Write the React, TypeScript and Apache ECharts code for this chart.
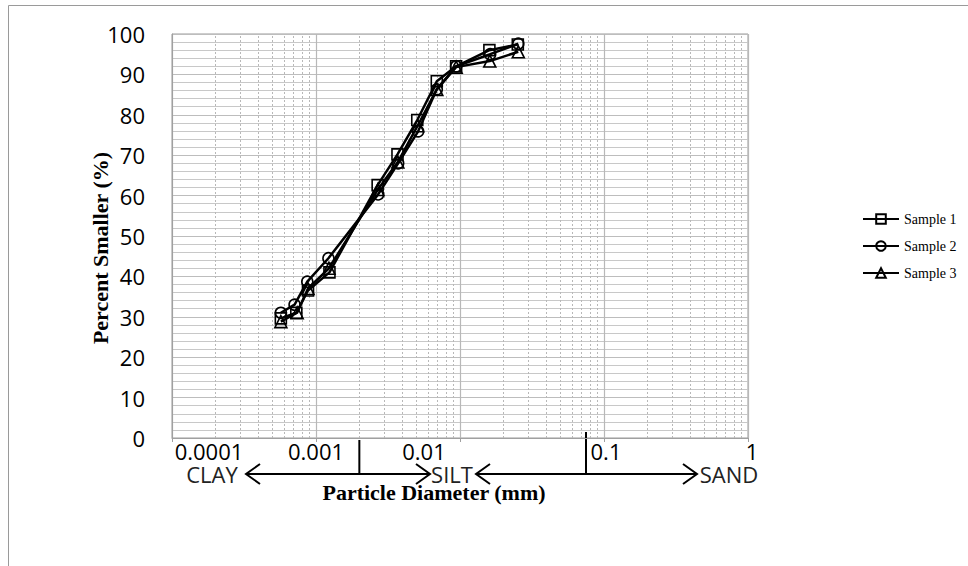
import React, { useEffect, useRef } from "react";
import * as echarts from "echarts";

// ---- data ----
const seriesNames = ["Sample 1", "Sample 2", "Sample 3"];
const sample1Diam = [0.00057, 0.00073, 0.00088, 0.00124, 0.00268, 0.00368, 0.00505, 0.0069, 0.0094, 0.016, 0.0252];
const sample1Pct = [29.6, 31.0, 36.5, 41.0, 62.6, 70.2, 78.7, 88.3, 92.0, 96.0, 97.4];
const sample2Diam = [0.00057, 0.00071, 0.00087, 0.00122, 0.0027, 0.00372, 0.00512, 0.0069, 0.0094, 0.0162, 0.0254];
const sample2Pct = [31.0, 33.0, 38.7, 44.5, 60.3, 68.0, 75.9, 86.3, 92.0, 95.0, 97.6];
const sample3Diam = [0.00057, 0.00074, 0.00088, 0.00123, 0.00269, 0.0037, 0.00508, 0.0069, 0.0094, 0.0161, 0.0254];
const sample3Pct = [28.8, 31.0, 37.0, 42.0, 61.5, 68.3, 77.3, 86.3, 91.8, 93.3, 95.6];
const seriesSymbols = ["rect", "circle", "triangle"];

const xTickValues = [0.0001, 0.001, 0.01, 0.1, 1];
const xTickLabels = ["0.0001", "0.001", "0.01", "0.1", "1"];
const minorMultipliers = [2, 3, 4, 5, 6, 7, 8, 9];
const soilBoundaries = [0.002, 0.075]; // clay/silt, silt/sand (mm)
const soilLabels = ["CLAY", "SILT", "SAND"];

// ---- layout / style (not data) ----
const W = 968;
const H = 566;
const xLabelShift = [37, 0, -36, 2, 4]; // horizontal nudges of the tick labels, px
const annotY = 474;
const soilLabelX = [212, 452, 729];
const arrowSpans = [
  [246, 430],
  [476, 697],
];

export default function App() {
  const ref = useRef<HTMLDivElement>(null);

  useEffect(() => {
    if (!ref.current) return;
    const chart = echarts.init(ref.current, undefined, { renderer: "svg", width: W, height: H });

    const minorValues: number[] = [];
    for (let k = 0; k < xTickValues.length - 1; k++) {
      for (const m of minorMultipliers) minorValues.push(Number((m * xTickValues[k]).toPrecision(6)));
    }

    const diams = [sample1Diam, sample2Diam, sample3Diam];
    const pcts = [sample1Pct, sample2Pct, sample3Pct];

    const series: any[] = seriesNames.map((name, i) => ({
      name,
      type: "line",
      data: diams[i].map((d, j) => [d, pcts[i][j]]),
      symbol: seriesSymbols[i],
      symbolSize: i === 2 ? 12 : 11,
      showSymbol: true,
      lineStyle: { color: "#000", width: 2.5 },
      itemStyle: { color: "rgba(0,0,0,0)", borderColor: "#000", borderWidth: 1.6 },
      emphasis: { disabled: true },
      z: 5,
    }));

    series.push({
      name: "_minorGrid",
      type: "line",
      data: [],
      silent: true,
      z: 1,
      markLine: {
        silent: true,
        precision: 10,
        symbol: "none",
        label: { show: false },
        lineStyle: { color: "#b8b8b8", width: 1, type: [2, 2] },
        data: minorValues.map((v) => ({ xAxis: v })),
      },
    });

    const rich: any = {};
    xLabelShift.forEach((s, i) => {
      rich["l" + i] = {
        fontFamily: "Open Sans",
        fontSize: 22,
        lineHeight: 18,
        color: "#000",
        padding: s >= 0 ? [0, 0, 0, 2 * s] : [0, -2 * s, 0, 0],
      };
    });

    const option: any = {
      animation: false,
      backgroundColor: "#fff",
      grid: {
        left: 172,
        top: 34,
        right: W - 748,
        bottom: H - 438,
        show: true,
        borderColor: "#9a9a9a",
        borderWidth: 1,
      },
      legend: {
        orient: "vertical",
        left: 857,
        top: 206,
        itemGap: 11,
        itemWidth: 36,
        itemHeight: 12,
        data: seriesNames,
        textStyle: { fontFamily: "Liberation Serif", fontSize: 14, color: "#000", lineHeight: 16 },
      },
      xAxis: {
        type: "log",
        logBase: 10,
        min: 0.0001,
        max: 1,
        name: "Particle Diameter (mm)",
        nameLocation: "middle",
        nameGap: 45,
        nameMoveOverlap: false,
        nameTextStyle: {
          fontFamily: "Liberation Serif",
          fontWeight: "bold",
          fontSize: 22,
          lineHeight: 18,
          color: "#000",
          padding: [0, 52, 0, 0],
        },
        axisLine: { show: true, lineStyle: { color: "#a0a0a0", width: 1 } },
        axisTick: { show: true, length: 4, lineStyle: { color: "#a0a0a0" } },
        axisLabel: {
          margin: 4,
          fontFamily: "Open Sans",
          fontSize: 22,
          color: "#000",
          rich,
          formatter: (v: number) => {
            const idx = xTickValues.findIndex((t) => Math.abs(Math.log10(t) - Math.log10(v)) < 1e-6);
            return idx >= 0 ? "{l" + idx + "|" + xTickLabels[idx] + "}" : "";
          },
        },
        splitLine: { show: true, lineStyle: { color: "#b8b8b8", width: 1.2 } },
      },
      yAxis: {
        type: "value",
        min: 0,
        max: 100,
        interval: 10,
        name: "Percent Smaller (%)",
        nameLocation: "middle",
        nameGap: 62,
        nameMoveOverlap: false,
        nameTextStyle: {
          fontFamily: "Liberation Serif",
          fontWeight: "bold",
          fontSize: 22,
          lineHeight: 20,
          color: "#000",
          padding: [0, 24, 0, 0],
        },
        axisLine: { show: true, lineStyle: { color: "#a0a0a0", width: 1 } },
        axisTick: { show: false },
        axisLabel: { margin: 27, fontFamily: "Open Sans", fontSize: 22, color: "#000" },
        splitLine: { show: true, lineStyle: { color: "#bdbdbd", width: 1.2 } },
        minorTick: { show: false, splitNumber: 5 },
        minorSplitLine: { show: true, lineStyle: { color: "#c8c8c8", width: 1.2 } },
      },
      series,
    };

    chart.setOption(option);

    const bx1 = chart.convertToPixel({ xAxisIndex: 0 }, soilBoundaries[0]) as number;
    const bx2 = chart.convertToPixel({ xAxisIndex: 0 }, soilBoundaries[1]) as number;
    const y0 = chart.convertToPixel({ yAxisIndex: 0 }, 0) as number;
    const ay = annotY;
    const head = (x: number, dir: number) => ({
      type: "polyline",
      shape: { points: [[x - dir * 14, ay - 10], [x, ay], [x - dir * 14, ay + 10]] },
      style: { stroke: "#000", lineWidth: 2, fill: "none" },
      silent: true,
    });
    const hline = (x1: number, x2: number) => ({
      type: "line",
      shape: { x1, y1: ay, x2, y2: ay },
      style: { stroke: "#000", lineWidth: 2 },
      silent: true,
    });
    const label = (text: string, x: number) => ({
      type: "text",
      x,
      y: ay,
      style: {
        text,
        fontFamily: "Open Sans",
        fontSize: 22,
        lineHeight: 18,
        fill: "#222",
        align: "center",
        verticalAlign: "middle",
      },
      silent: true,
    });

    chart.setOption({
      graphic: [
        {
          type: "rect",
          shape: { x: 8.5, y: 5.5, width: 1000, height: 700 },
          style: { fill: "none", stroke: "#9a9a9a", lineWidth: 1 },
          silent: true,
          z: -10,
        },
        { type: "line", shape: { x1: bx1, y1: y0 + 2, x2: bx1, y2: ay }, style: { stroke: "#000", lineWidth: 2 }, silent: true },
        { type: "line", shape: { x1: bx2, y1: y0 - 6, x2: bx2, y2: ay }, style: { stroke: "#000", lineWidth: 2 }, silent: true },
        hline(arrowSpans[0][0], arrowSpans[0][1]),
        head(arrowSpans[0][0], -1),
        head(arrowSpans[0][1], 1),
        hline(arrowSpans[1][0], arrowSpans[1][1]),
        head(arrowSpans[1][0], -1),
        head(arrowSpans[1][1], 1),
        label(soilLabels[0], soilLabelX[0]),
        label(soilLabels[1], soilLabelX[1]),
        label(soilLabels[2], soilLabelX[2]),
      ],
    });

    return () => chart.dispose();
  }, []);

  return (
    <div
      ref={ref}
      style={{ position: "fixed", left: 0, top: 0, width: W, height: H, background: "#fff" }}
    />
  );
}
